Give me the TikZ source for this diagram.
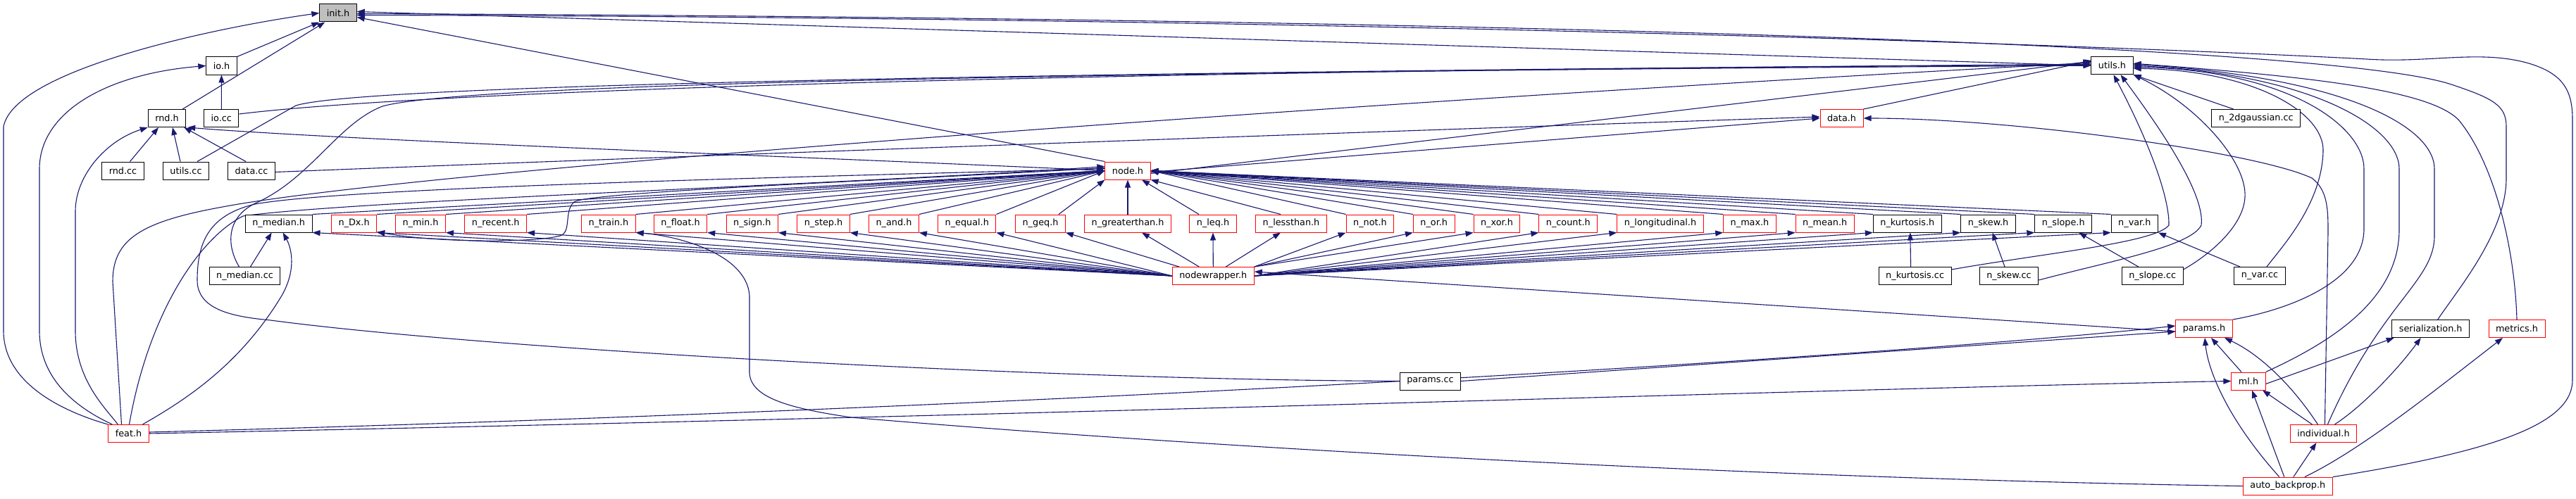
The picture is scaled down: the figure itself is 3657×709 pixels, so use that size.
\documentclass[tikz,border=0pt]{standalone}
\usepackage{fontspec}
\setmainfont{DejaVu Sans}
\usetikzlibrary{arrows.meta}
\definecolor{edgec}{HTML}{191970}
\definecolor{grayfill}{HTML}{BFBFBF}
\pgfdeclarelayer{bg}
\pgfsetlayers{bg,main}
\begin{document}
\begin{tikzpicture}[x=1pt,y=-1pt,
 box/.style={draw=black, line width=1pt, fill=white, font=\fontsize{12.8}{14}\selectfont, minimum height=25pt, inner xsep=10pt, inner ysep=0pt},
 rbox/.style={box, draw=red},
 e/.style={draw=edgec, line width=1.1pt, arrows={Triangle[length=11pt,width=8pt]-}},
]
\useasboundingbox (0,0) rectangle (3657,709);
% nodes
\node[box, fill=grayfill] (init) at (480,18.5) {init.h};
\node[box] (ioh) at (314.5,93.5) {io.h};
\node[box] (utils) at (2998.5,93.2) {utils.h};
\node[box] (rndh) at (237,168) {rnd.h};
\node[box] (iocc) at (314.3,168) {io.cc};
\node[rbox] (datah) at (2614.5,168) {data.h};
\node[box] (gauss) at (3202.7,168) {n\_2dgaussian.cc};
\node[box] (rndcc) at (174.5,242.5) {rnd.cc};
\node[box] (utilscc) at (264,242.5) {utils.cc};
\node[box] (datacc) at (357,242.5) {data.cc};
\node[rbox] (nodeh) at (1601,242.5) {node.h};
\node[box] (medh) at (395.7,317.5) {n\_median.h};
\node[rbox] (dxh) at (502.6,317.5) {n\_Dx.h};
\node[rbox] (minh) at (597,317.5) {n\_min.h};
\node[rbox] (recent) at (703.7,317.5) {n\_recent.h};
\node[rbox] (train) at (863.9,317.5) {n\_train.h};
\node[rbox] (floath) at (966,317.5) {n\_float.h};
\node[rbox] (sign) at (1067.8,317.5) {n\_sign.h};
\node[rbox] (steph) at (1169,317.5) {n\_step.h};
\node[rbox] (andh) at (1269,317.5) {n\_and.h};
\node[rbox] (equal) at (1372.8,317.5) {n\_equal.h};
\node[rbox] (geq) at (1477,317.5) {n\_geq.h};
\node[rbox] (greater) at (1601,317.5) {n\_greaterthan.h};
\node[rbox] (leq) at (1722,317.5) {n\_leq.h};
\node[rbox] (less) at (1833,317.5) {n\_lessthan.h};
\node[rbox] (noth) at (1945,317.5) {n\_not.h};
\node[rbox] (orh) at (2035.7,317.5) {n\_or.h};
\node[rbox] (xorh) at (2125,317.5) {n\_xor.h};
\node[rbox] (count) at (2226.3,317.5) {n\_count.h};
\node[rbox] (longi) at (2357,317.5) {n\_longitudinal.h};
\node[rbox] (maxh) at (2484,317.5) {n\_max.h};
\node[rbox] (mean) at (2590.7,317.5) {n\_mean.h};
\node[box] (kurt) at (2707.8,317.5) {n\_kurtosis.h};
\node[box] (skew) at (2822.5,317.5) {n\_skew.h};
\node[box] (slope) at (2929.2,317.5) {n\_slope.h};
\node[box] (varh) at (3030.3,317.5) {n\_var.h};
\node[box] (medcc) at (347.5,392) {n\_median.cc};
\node[rbox] (wrap) at (1722.3,392) {nodewrapper.h};
\node[box] (kurtcc) at (2718.6,392) {n\_kurtosis.cc};
\node[box] (skewcc) at (2852,392) {n\_skew.cc};
\node[box] (slopecc) at (3055.7,392) {n\_slope.cc};
\node[box] (varcc) at (3208,392) {n\_var.cc};
\node[rbox] (params) at (3129,467) {params.h};
\node[box] (serial) at (3450.7,467) {serialization.h};
\node[rbox] (metrics) at (3573,467) {metrics.h};
\node[box] (paramscc) at (2030.5,541.5) {params.cc};
\node[rbox] (ml) at (3192,541.5) {ml.h};
\node[rbox] (feat) at (182.5,616) {feat.h};
\node[rbox] (indiv) at (3298.4,616) {individual.h};
\node[rbox] (autob) at (3247.8,690.6) {auto\_backprop.h};
\begin{pgfonlayer}{bg}
% init.h
\draw[e] (init.south west) -- (ioh.north east);
\draw[e] ([xshift=8pt]init.south west) -- ([xshift=-5pt]rndh.north east);
\draw[e] (init.west) .. controls (300,40) and (20,100) .. (5,180) -- (5,470) .. controls (5,545) and (90,585) .. (feat.north west);
\draw[e] ([yshift=2pt]init.east) -- (utils.west);
\draw[e] ([yshift=-6pt]init.east) -- (nodeh.north west);
\draw[e] ([yshift=-1pt]init.east) .. controls (2000,25) and (3300,60) .. (3480,120) .. controls (3540,140) and (3558,150) .. (3558,180) -- (3558,253) .. controls (3558,330) and (3490,410) .. ([xshift=10pt]serial.north);
\draw[e] ([yshift=-3pt]init.east) .. controls (2000,25) and (3100,70) .. (3360,84) .. controls (3450,90) and (3520,70) .. (3590,90) .. controls (3640,105) and (3652,130) .. (3652,170) -- (3652,540) .. controls (3652,600) and (3550,640) .. (autob.north east);
% io.h
\draw[e] (ioh) -- (iocc);
\draw[e] (ioh.west) .. controls (150,105) and (56,160) .. (56,240) -- (56,470) .. controls (56,540) and (110,580) .. ([xshift=6pt]feat.north west);
% rnd.h
\draw[e] ([xshift=-12pt]rndh.south) -- ([xshift=10pt]rndcc.north);
\draw[e] ([xshift=8pt]rndh.south) -- ([xshift=-8pt]utilscc.north);
\draw[e] ([xshift=-3pt]rndh.south east) -- ([xshift=-8pt]datacc.north);
\draw[e] (rndh.south west) .. controls (150,200) and (107,250) .. (107,300) -- (107,470) .. controls (107,540) and (150,580) .. ([xshift=14pt]feat.north west);
\draw[e] ([xshift=2pt]rndh.south east) .. controls (500,200) and (1200,225) .. (nodeh.west);
% utils.h from the left
\draw[e] ([yshift=1pt]utils.west) .. controls (1500,100) and (600,130) .. ([yshift=6pt]iocc.east);
\draw[e] ([yshift=2pt]utils.west) .. controls (1200,105) and (500,125) .. (420,150) -- ([xshift=16pt]utilscc.north);
\draw[e] (utils.west) .. controls (1500,102) and (650,120) .. (543,151) .. controls (480,175) and (440,255) .. (362,289) .. controls (320,310) and (322,350) .. ([xshift=-8pt]medcc.north);
\draw[e] ([yshift=4pt]utils.west) .. controls (2000,140) and (600,240) .. (316,294) .. controls (200,315) and (160,340) .. (160,400) -- ([xshift=-10pt]feat.north);
\draw[e] ([yshift=6pt]utils.west) -- ([yshift=-4pt]nodeh.east);
\draw[e] ([yshift=7pt,xshift=2pt]utils.west) -- (datah.north east);
% data.h
\draw[e] (datah.west) -- ([yshift=-2pt]nodeh.east);
\draw[e] ([yshift=2pt]datah.west) .. controls (2000,185) and (800,228) .. ([yshift=-2pt]datacc.east);
\draw[e] (datah.east) .. controls (2850,168) and (3200,215) .. (3282,253) .. controls (3305,270) and (3305,300) .. (3305,330) -- ([xshift=2pt]indiv.north);
% utils.h from the right
\draw[e] (utils.south east) -- ([xshift=-32pt]gauss.north);
\draw[e] ([xshift=2pt]utils.south) .. controls (3050,200) and (3080,280) .. (3079,320) .. controls (3060,345) and (2900,360) .. ([yshift=-4pt]kurtcc.north east);
\draw[e] ([xshift=12pt]utils.south) .. controls (3080,200) and (3130,280) .. (3125,320) .. controls (3110,350) and (3000,370) .. ([yshift=-6pt]skewcc.east);
\draw[e] (utils.south east) .. controls (3120,150) and (3190,230) .. (3187,280) .. controls (3185,320) and (3140,360) .. ([yshift=-4pt]slopecc.north east);
\draw[e] ([yshift=-4pt]utils.east) .. controls (3200,100) and (3300,160) .. (3298,215) .. controls (3296,290) and (3240,350) .. ([xshift=10pt]varcc.north);
\draw[e] ([yshift=-2pt]utils.east) .. controls (3250,100) and (3356,180) .. (3356,240) -- (3356,325) .. controls (3356,400) and (3250,440) .. (params.north east);
\draw[e] (utils.east) .. controls (3280,105) and (3406,180) .. (3406,240) -- (3406,326) .. controls (3406,430) and (3300,490) .. (ml.north east);
\draw[e] ([yshift=2pt]utils.east) .. controls (3330,110) and (3456,180) .. (3456,240) -- (3456,335) .. controls (3456,400) and (3380,430) .. ([xshift=6pt]indiv.north);
\draw[e] ([yshift=3pt]utils.east) .. controls (3300,110) and (3450,130) .. (3490,170) .. controls (3540,230) and (3570,350) .. (metrics.north);
% params.h
\draw[e] ([yshift=-4pt]params.west) -- (paramscc.east);
\draw[e] ([yshift=4pt]params.west) .. controls (2700,505) and (1500,580) .. ([yshift=2pt]feat.east);
\draw[e] (ml.west) .. controls (2700,550) and (1500,590) .. (feat.east);
\draw[e] ([yshift=6pt]wrap.east) -- ([yshift=-4pt]params.west);
\draw[e] ([xshift=10pt]params.south) -- ([xshift=-10pt]ml.north);
\draw[e] ([xshift=29pt]params.south) .. controls (3205,502) and (3251,543) .. ([xshift=-8pt]indiv.north);
\draw[e] ([xshift=1pt]params.south) .. controls (3135,530) and (3166,600) .. ([xshift=-12pt]autob.north);
\draw[e] ([xshift=-52pt]serial.south) -- ([yshift=-4pt]ml.east);
\draw[e] ([xshift=-14pt]serial.south) .. controls (3400,530) and (3350,580) .. ([xshift=16pt]indiv.north);
\draw[e] ([xshift=20pt]ml.south) -- ([xshift=-16pt]indiv.north);
\draw[e] ([xshift=5pt]ml.south) -- ([xshift=-5pt]autob.north);
\draw[e] ([xshift=-10pt]indiv.south) -- ([xshift=8pt]autob.north);
\draw[e] ([xshift=-20pt]metrics.south) .. controls (3450,560) and (3350,640) .. ([xshift=24pt]autob.north);
\draw[e] (train.south east) .. controls (960,335) and (1060,360) .. (1064,420) -- (1064,530) .. controls (1066,565) and (1120,580) .. (1208,593) .. controls (1700,635) and (2500,680) .. (autob.west);
% node.h
\foreach \n in {medh,dxh,minh,recent,train,floath,sign,steph,andh,equal}
  \draw[e] (nodeh.west) -- (\n.north east);
\draw[e] (nodeh.south west) -- ([xshift=-10pt]geq.north east);
\draw[e] (nodeh.south) -- (greater.north);
\draw[e] ([xshift=20pt]nodeh.south) -- ([xshift=-20pt]leq.north);
\draw[e] (nodeh.south east) -- ([xshift=-15pt]less.north);
\foreach \n in {noth,orh,xorh,count,longi,maxh,mean,kurt,skew,slope,varh}
  \draw[e] (nodeh.east) -- (\n.north west);
\draw[e] ([yshift=3pt]nodeh.west) .. controls (1200,250) and (500,265) .. (362,290) .. controls (300,305) and (280,340) .. (280,398) .. controls (280,440) and (330,450) .. (384,455) .. controls (700,497) and (1500,540) .. (paramscc.west);
\draw[e] ([yshift=6pt]nodeh.west) .. controls (1200,262) and (500,285) .. (345,307) .. controls (280,340) and (210,450) .. ([xshift=1pt]feat.north);
\draw[e] ([yshift=1pt]dxh.south east) .. controls (620,345) and (760,345) .. (795,335) .. controls (812,330) and (800,300) .. (815,287) .. controls (835,272) and (1300,255) .. ([yshift=4pt]nodeh.west);
% nodewrapper.h
\foreach \n in {medh,dxh,minh,recent,train,floath,sign,steph,andh,equal}
  \draw[e] (\n.south east) -- (wrap.west);
\draw[e] (geq.south east) -- ([xshift=10pt]wrap.north west);
\draw[e] ([xshift=20pt]greater.south) -- ([xshift=-20pt]wrap.north);
\draw[e] (leq.south) -- (wrap.north);
\draw[e] ([xshift=-15pt]less.south) -- ([xshift=18pt]wrap.north);
\foreach \n in {noth,orh,xorh}
  \draw[e] (\n.south west) -- (wrap.north east);
\foreach \n in {count,longi,maxh,mean,kurt,skew,slope,varh}
  \draw[e] (\n.south west) -- (wrap.east);
% others
\draw[e] ([xshift=-10pt]medh.south) -- ([xshift=8pt]medcc.north);
\draw[e] ([xshift=6pt]medh.south) .. controls (415,355) and (420,385) .. (400,420) .. controls (340,520) and (260,570) .. ([xshift=20pt]feat.north);
\draw[e] ([xshift=4pt]kurt.south) -- ([xshift=-6pt]kurtcc.north);
\draw[e] ([xshift=6pt]skew.south) -- ([xshift=-6pt]skewcc.north);
\draw[e] ([xshift=22pt]slope.south) -- ([xshift=-20pt]slopecc.north);
\draw[e] (varh.south east) -- ([xshift=-28pt]varcc.north);
\end{pgfonlayer}
\end{tikzpicture}
\end{document}
